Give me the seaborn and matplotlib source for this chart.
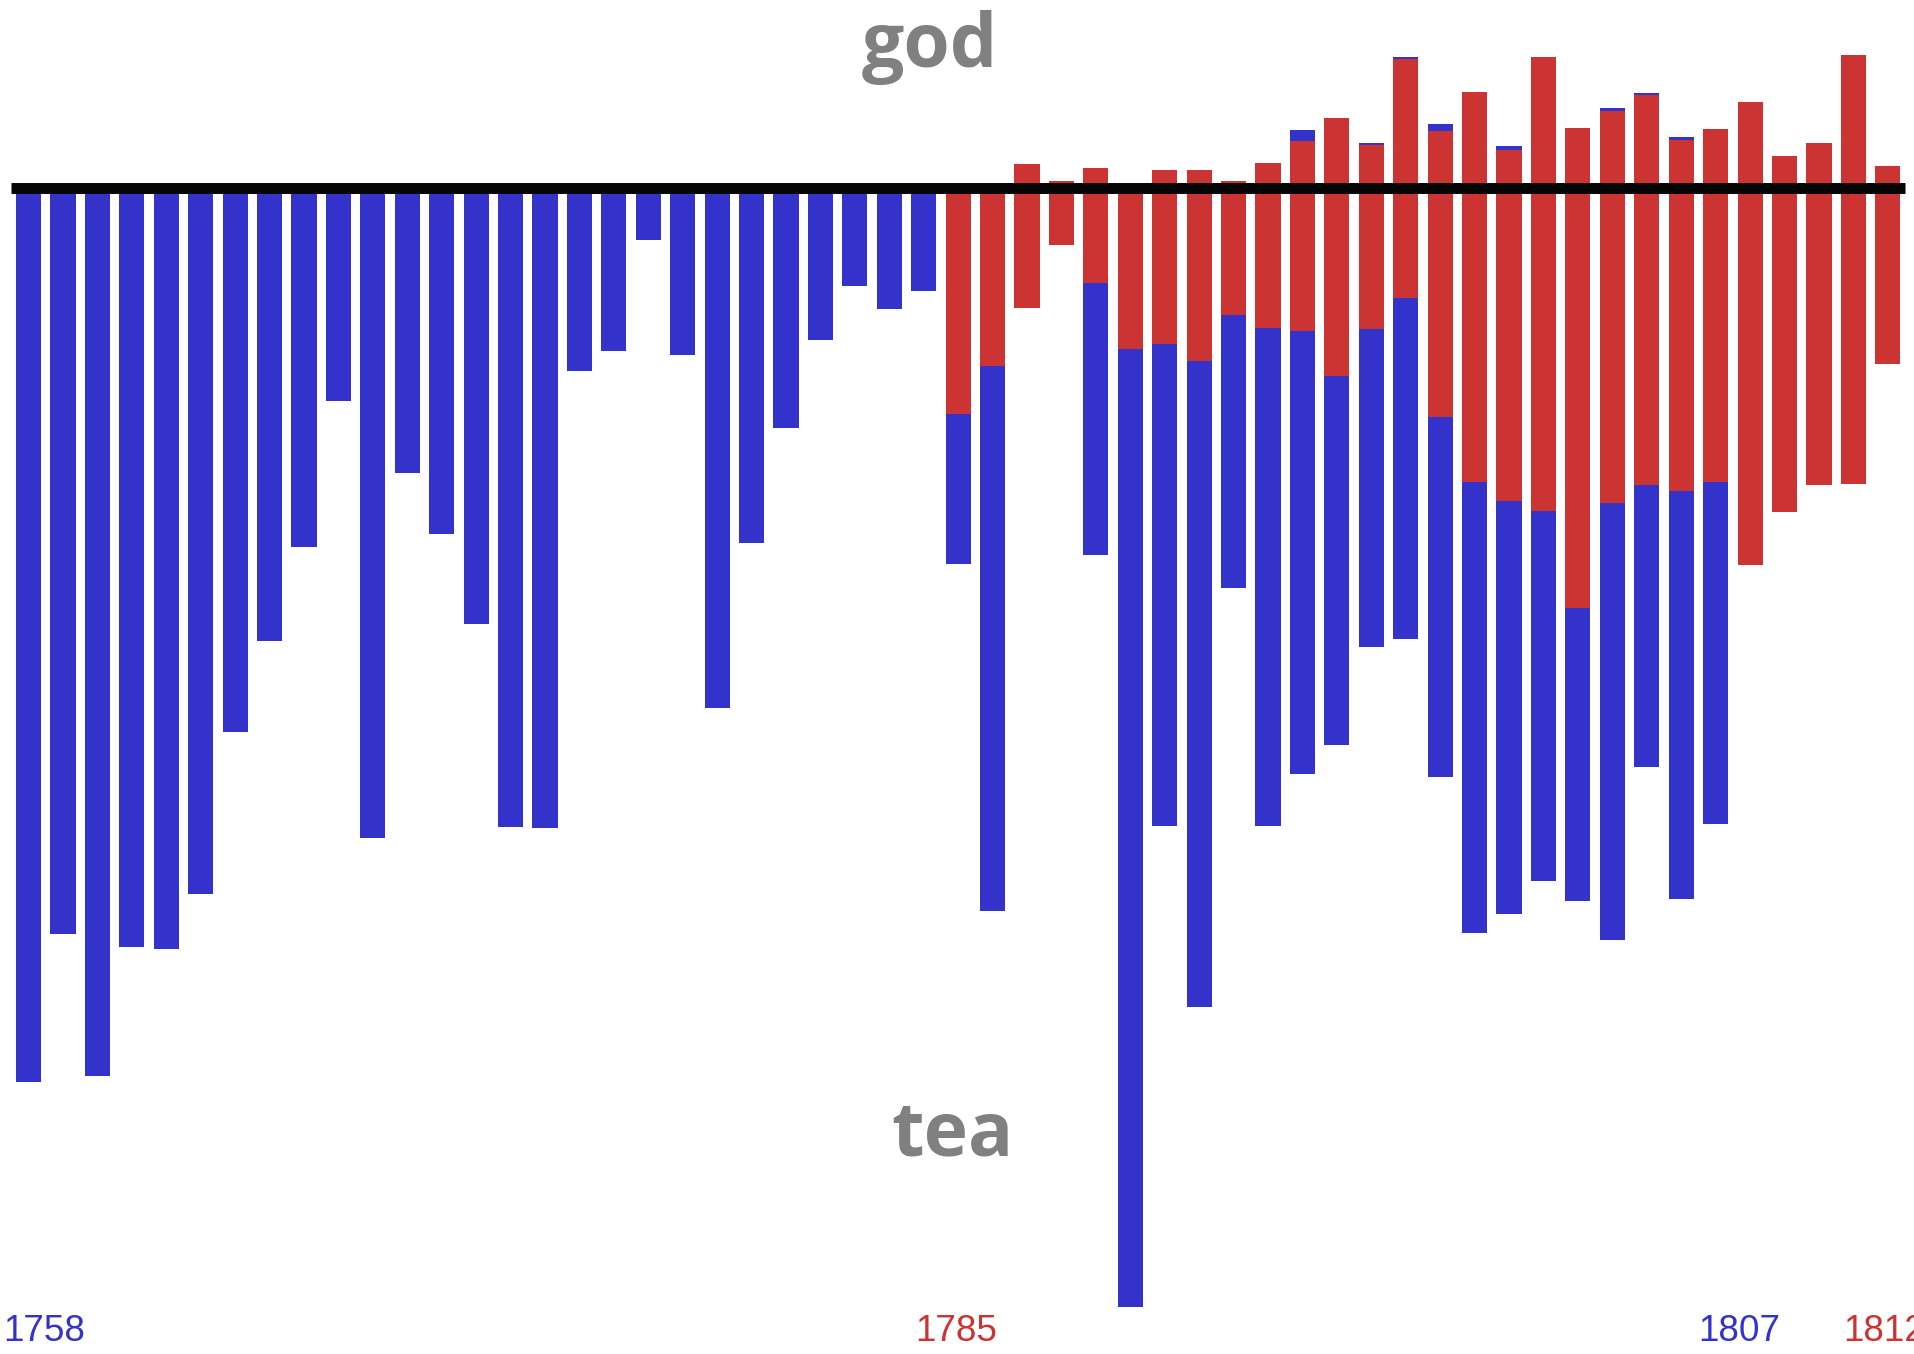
import numpy as np
import matplotlib
matplotlib.use('Agg')
from matplotlib import pyplot as plt
from matplotlib import font_manager
import seaborn as sns

# years on the x axis (one bar slot per year)
years = list(range(1758, 1813))

# "tea" series (blue), 1758-1807: top and bottom of each bar, line = 0
tea_years = list(range(1758, 1808))
tea_top = [0] * 27 + [
    -22.6, -17.8, -12.0, -5.7, -9.5, -16.1, -15.6, -17.3, -12.7, -14.0,
    5.75, -18.8, 4.45, 13.1, 6.35, -29.4, 4.2, -32.3, -42.0, 8.0,
    9.5, 5.05, -29.4]
tea_bottom = [
    -89.4, -74.6, -88.8, -75.9, -76.1, -70.6, -54.4, -45.3, -35.9, -21.3,
    -65.0, -28.5, -34.6, -43.6, -63.9, -64.0, -18.3, -16.3, -5.2, -16.7,
    -52.0, -35.5, -24.0, -15.2, -9.8, -12.1, -10.3,
    -37.6, -72.3, -12.0, -5.7, -36.7, -111.9, -63.8, -81.9, -40.0, -63.8,
    -58.6, -55.7, -45.9, -45.1, -58.9, -74.5, -72.6, -69.3, -71.3, -75.2,
    -57.9, -71.1, -63.6]

# "god" series (red), 1785-1812
god_years = list(range(1785, 1813))
god_top = [
    0, 0, 2.4, 0.7, 2.0, 0, 1.75, 1.75, 0.7, 2.5,
    4.7, 7.0, 4.25, 12.9, 5.7, 9.55, 3.8, 13.05, 5.95, 7.65,
    9.25, 4.8, 5.85, 8.55, 3.15, 4.5, 13.25, 2.2]
god_bottom = [
    -22.6, -17.8, -12.0, -5.7, -9.5, -16.1, -15.6, -17.3, -12.7, -14.0,
    -14.3, -18.8, -14.1, -11.0, -22.9, -29.4, -31.3, -32.3, -42.0, -31.5,
    -29.7, -30.3, -29.4, -37.75, -32.4, -29.75, -29.6, -17.65]

year_labels = ['1758', '1785', '1807', '1812']

blue = '#3333cc'
red = '#cc3333'
gray = '#808080'

sns.set_theme(style='white')


def pick_font(names):
    for n in names:
        try:
            font_manager.findfont(n, fallback_to_default=False)
            return n
        except Exception:
            continue
    return 'DejaVu Sans'


word_font = pick_font(['Liberation Sans Narrow', 'Open Sans'])
num_font = pick_font(['Liberation Sans', 'DejaVu Sans'])

fig = plt.figure(figsize=(19.15, 13.54), dpi=100)
ax = fig.add_axes([0, 0, 1, 1])

xpos = {y: i for i, y in enumerate(years)}
tx = [xpos[y] for y in tea_years]
gx = [xpos[y] for y in god_years]

tea_h = np.array(tea_top) - np.array(tea_bottom)
god_h = np.array(god_top) - np.array(god_bottom)

ax.bar(tx, tea_h, bottom=tea_bottom, width=0.73, color=blue,
       linewidth=0, zorder=2)
ax.bar(gx, god_h, bottom=god_bottom, width=0.73, color=red,
       linewidth=0, zorder=3)

# baseline
ax.plot([-0.508, 54.5], [0, 0], color='#050505', linewidth=7.9,
        solid_capstyle='butt', zorder=4)

# word labels
ax.text(26.17, 12.08, 'god', ha='center', va='baseline', color=gray,
        fontsize=54, fontweight='bold', family=word_font)
ax.text(26.82, -96.75, 'tea', ha='center', va='baseline', color=gray,
        fontsize=54, fontweight='bold', family=word_font)

# year labels
ax.text(-0.73, -115.35, year_labels[0], ha='left', va='baseline',
        color=blue, fontsize=26.6, family=num_font)
ax.text(26.94, -115.35, year_labels[1], ha='center', va='baseline',
        color=red, fontsize=26.6, family=num_font)
ax.text(49.7, -115.35, year_labels[2], ha='center', va='baseline',
        color=blue, fontsize=26.6, family=num_font)
ax.text(52.7, -115.35, year_labels[3], ha='left', va='baseline',
        color=red, fontsize=26.6, family=num_font)

ax.set_xlim(-0.828, 54.79)
ax.set_ylim(-116.65, 18.75)
ax.axis('off')

fig.savefig('out.png', dpi=100, facecolor='white')
